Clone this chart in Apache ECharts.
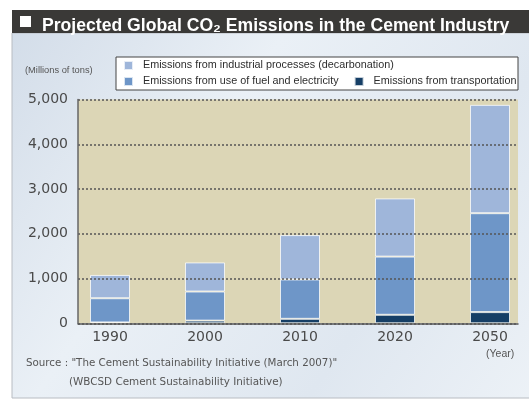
<!DOCTYPE html>
<html>
<head>
<meta charset="utf-8">
<script src="https://cdn.jsdelivr.net/npm/echarts@6/dist/echarts.min.js"></script>
<style>
  html, body { margin: 0; padding: 0; background: #ffffff; }
  #chart { width: 529px; height: 400px; }
</style>
</head>
<body>
<div id="chart"></div>
<script>
// ---- data ----
const years = ['1990', '2000', '2010', '2020', '2050'];
const transportation = [20, 60, 100, 190, 250];
const fuelElectricity = [540, 650, 880, 1300, 2210];
const industrialProcesses = [520, 650, 990, 1300, 2420];
const seriesNames = [
  'Emissions from industrial processes (decarbonation)',
  'Emissions from use of fuel and electricity',
  'Emissions from transportation'
];
const yTicks = [0, 1000, 2000, 3000, 4000, 5000];

const chart = echarts.init(document.getElementById('chart'), null, { renderer: 'canvas' });

const FONT = 'Liberation Sans';
const barStyle = c => ({ color: c, borderColor: 'rgba(255,255,255,0.75)', borderWidth: 1 });
const TOP = 99.5, BOTTOM = 76.7;
const legendText = { fontSize: 10.8, fontFamily: FONT, color: '#2e2e2e', padding: [0, 0, 0, 5] };

const option = {
  animation: false,
  backgroundColor: '#ffffff',
  title: {
    text: 'Projected Global CO\u2082 Emissions in the Cement Industry',
    left: 37, top: 10,
    textStyle: { color: '#ffffff', fontSize: 17.6, fontWeight: 'bold', fontFamily: FONT, lineHeight: 22 }
  },
  legend: [
    {
      data: [seriesNames[0]],
      left: 123, top: 60, padding: 0,
      itemWidth: 9, itemHeight: 9, itemGap: 14,
      icon: 'rect',
      textStyle: legendText
    },
    {
      data: [seriesNames[1], seriesNames[2]],
      left: 123, top: 76, padding: 0,
      itemWidth: 9, itemHeight: 9, itemGap: 15,
      icon: 'rect',
      textStyle: legendText
    }
  ],
  grid: [
    // bar grid: category bands 95px wide, centred at the reference positions
    { left: 62.5, width: 475, top: TOP, bottom: BOTTOM, show: false, outerBoundsMode: 'none', containLabel: false },
    // plot frame grid: tan background, gridlines and axes
    { left: 78, right: 11, top: TOP, bottom: BOTTOM, show: true, backgroundColor: '#dcd6b6', borderWidth: 0, outerBoundsMode: 'none', containLabel: false }
  ],
  xAxis: [
    {
      gridIndex: 0, type: 'category', data: years,
      axisLine: { show: false }, axisTick: { show: false }, splitLine: { show: false },
      axisLabel: { color: '#4a4a4a', fontSize: 14, fontFamily: 'DejaVu Sans', margin: 7 }
    },
    {
      gridIndex: 1, type: 'value', min: 0, max: 1, z: 5,
      axisLine: { show: true, onZero: false, lineStyle: { color: '#555', width: 1.5 } },
      axisTick: { show: false }, splitLine: { show: false }, axisLabel: { show: false }
    }
  ],
  yAxis: [
    {
      gridIndex: 0, type: 'value', min: yTicks[0], max: yTicks[yTicks.length - 1], show: false
    },
    {
      gridIndex: 1, type: 'value',
      min: yTicks[0], max: yTicks[yTicks.length - 1], interval: 1000, z: 5,
      axisLine: { show: true, onZero: false, lineStyle: { color: '#666', width: 1.5 } },
      axisTick: { show: false },
      splitLine: { show: true, lineStyle: { color: '#555', type: [2, 2], width: 1.5 } },
      axisLabel: {
        formatter: v => v.toLocaleString('en-US'),
        color: '#4a4a4a', fontSize: 14, fontFamily: 'DejaVu Sans', margin: 10
      }
    }
  ],
  series: [
    { name: seriesNames[2], type: 'bar', stack: 'total', barWidth: 40, xAxisIndex: 0, yAxisIndex: 0, data: transportation, itemStyle: barStyle('#163f66') },
    { name: seriesNames[1], type: 'bar', stack: 'total', barWidth: 40, xAxisIndex: 0, yAxisIndex: 0, data: fuelElectricity, itemStyle: barStyle('#6e96c8') },
    { name: seriesNames[0], type: 'bar', stack: 'total', barWidth: 40, xAxisIndex: 0, yAxisIndex: 0, data: industrialProcesses, itemStyle: barStyle('#9fb6da') }
  ],
  graphic: [
    {
      type: 'rect', z: -10, silent: true,
      shape: { x: 12, y: 33, width: 530, height: 365 },
      style: {
        fill: new echarts.graphic.LinearGradient(0, 0, 1, 1, [
          { offset: 0, color: '#d3dde9' },
          { offset: 0.35, color: '#eaf0f6' },
          { offset: 0.7, color: '#dfe7f0' },
          { offset: 1, color: '#edf2f7' }
        ]),
        stroke: '#b8bcc2', lineWidth: 1
      }
    },
    {
      type: 'rect', z: -5, silent: true,
      shape: { x: 12, y: 10, width: 520, height: 23 },
      style: { fill: '#3a3937' }
    },
    {
      type: 'rect', z: 5, silent: true,
      shape: { x: 20, y: 16, width: 11, height: 11 },
      style: { fill: '#ffffff' }
    },
    {
      type: 'rect', z: -4, silent: true,
      shape: { x: 116, y: 57, width: 402, height: 33 },
      style: { fill: '#ffffff', stroke: '#444', lineWidth: 1 }
    },
    {
      type: 'text', z: 5, silent: true, left: 25, top: 66,
      style: { text: '(Millions of tons)', fill: '#555', font: '9.3px "Liberation Sans"' }
    },
    {
      type: 'text', z: 5, silent: true, left: 486, top: 349,
      style: { text: '(Year)', fill: '#555', font: '10.5px "Liberation Sans"' }
    },
    {
      type: 'text', z: 5, silent: true, left: 26, top: 358,
      style: { text: 'Source : "The Cement Sustainability Initiative (March 2007)"', fill: '#555', font: '10.3px "DejaVu Sans"' }
    },
    {
      type: 'text', z: 5, silent: true, left: 69, top: 377,
      style: { text: '(WBCSD Cement Sustainability Initiative)', fill: '#555', font: '10.4px "DejaVu Sans"' }
    }
  ]
};
chart.setOption(option);
</script>
</body>
</html>
